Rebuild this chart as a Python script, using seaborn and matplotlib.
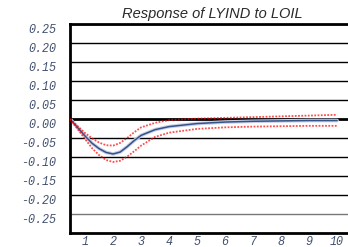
import matplotlib
matplotlib.use("Agg")
import matplotlib.pyplot as plt
import seaborn as sb
import pandas as pd

# Impulse response (extra steps where the curve bends)
periode = [0.46, 0.75, 1, 1.25, 1.5, 1.75, 2, 2.25, 2.5, 2.75, 3, 3.5, 4, 5, 6, 7, 8, 9, 10]
respons = [0.0, -0.024, -0.045, -0.064, -0.078, -0.088, -0.092, -0.087, -0.073, -0.057, -0.043, -0.028, -0.020, -0.012, -0.008, -0.006, -0.005, -0.004, -0.004]
boven = [0.0, -0.020, -0.037, -0.051, -0.062, -0.069, -0.070, -0.063, -0.050, -0.035, -0.022, -0.010, -0.003, 0.001, 0.003, 0.005, 0.007, 0.009, 0.011]
onder = [0.0, -0.028, -0.053, -0.077, -0.095, -0.108, -0.113, -0.110, -0.099, -0.085, -0.070, -0.047, -0.036, -0.026, -0.022, -0.020, -0.019, -0.018, -0.018]

y_ticks = [0.25, 0.20, 0.15, 0.10, 0.05, 0.00, -0.05, -0.10, -0.15, -0.20, -0.25]
x_ticks = [1, 2, 3, 4, 5, 6, 7, 8, 9, 10]
titel = "Response of LYIND to LOIL"

df = pd.DataFrame({"periode": periode, "respons": respons, "boven": boven, "onder": onder})

sb.set_style("white")
fig = plt.figure(figsize=(3.48, 2.47), dpi=100)
ax = fig.add_axes([70 / 348, 14 / 247, 280 / 348, 209 / 247])

# horizontale rasterlijnen
for y in y_ticks:
    ax.axhline(y, color="black" if y != -0.25 else "#777777", lw=2.0 if y == 0 else 1.0, zorder=1)

sb.lineplot(data=df, x="periode", y="boven", ax=ax, color="red", lw=1.3, linestyle=(0, (1, 0.8)), alpha=0.7, zorder=3)
sb.lineplot(data=df, x="periode", y="onder", ax=ax, color="red", lw=1.3, linestyle=(0, (1, 0.8)), alpha=0.7, zorder=3)
sb.lineplot(data=df, x="periode", y="respons", ax=ax, color="#c9cfe6", lw=2.6, zorder=2)
sb.lineplot(data=df, x="periode", y="respons", ax=ax, color="#34538a", lw=1.1, zorder=2)

ax.set_xlim(0.46, 10.46)
ax.set_ylim(-0.30, 0.25)
ax.set_xticks(x_ticks)
ax.set_yticks(y_ticks)
tick_font = dict(fontfamily="Liberation Mono", fontstyle="italic", fontsize=8.5, color="#42506e")
ax.set_xticklabels([str(x) for x in x_ticks], **tick_font)
ax.set_yticklabels(["%.2f" % y for y in y_ticks], va="top", **tick_font)
ax.set_xlabel("")
ax.set_ylabel("")

ax.tick_params(axis="x", length=0, pad=2)
ax.tick_params(axis="y", length=0, pad=10)

for side in ["left", "bottom", "top"]:
    ax.spines[side].set_color("black")
    ax.spines[side].set_linewidth(2.0)
ax.spines["right"].set_visible(False)

fig.text(212 / 348, 1 - 14 / 247, titel, ha="center", va="center",
         fontfamily="Liberation Sans", fontstyle="italic", fontsize=10.5, color="#2a2a2a")

plt.savefig("out.png", dpi=100)
